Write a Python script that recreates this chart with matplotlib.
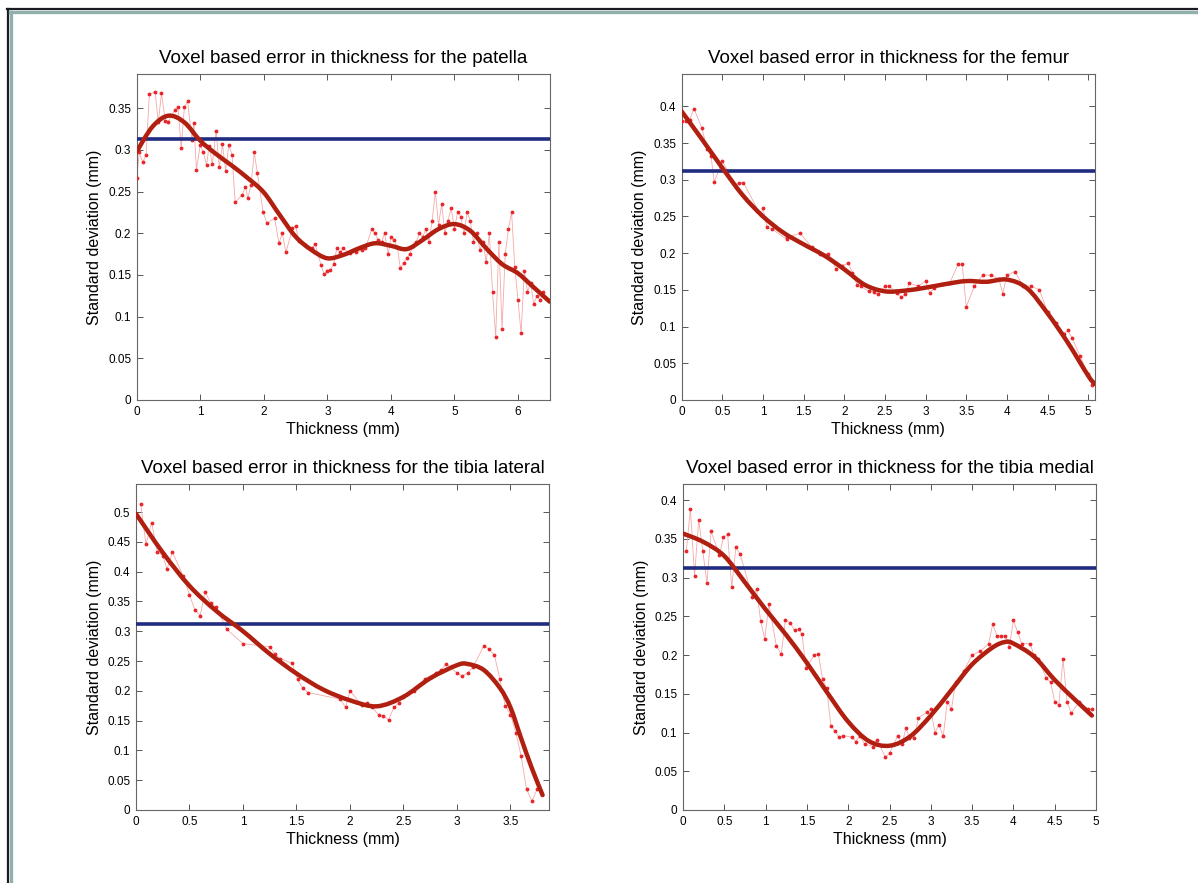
import numpy as np
import matplotlib
matplotlib.use('Agg')
import matplotlib.pyplot as plt
from matplotlib.ticker import FuncFormatter, MultipleLocator
from matplotlib.lines import Line2D
from matplotlib.path import Path
from matplotlib.patches import PathPatch

plt.rcParams['font.family'] = ['Liberation Sans', 'DejaVu Sans']

THRESH = 0.3125

# ---- patella ----
pat_x = [0.0, 0.04, 0.095, 0.147, 0.2, 0.29, 0.34, 0.39, 0.45, 0.5, 0.6, 0.65, 0.7, 0.75, 0.8,
         0.87, 0.9, 0.94, 1.0, 1.05, 1.1, 1.14, 1.19, 1.25, 1.3, 1.35, 1.4, 1.45, 1.5, 1.55,
         1.66, 1.71, 1.75, 1.8, 1.85, 1.9, 1.99, 2.05, 2.17, 2.24, 2.29, 2.35, 2.45, 2.5,
         2.55, 2.65, 2.76, 2.81, 2.9, 2.95, 3.0, 3.05, 3.1, 3.15, 3.2, 3.25, 3.35, 3.45,
         3.55, 3.6, 3.7, 3.75, 3.8, 3.86, 3.9, 3.96, 4.0, 4.05, 4.1, 4.15, 4.2, 4.25,
         4.3, 4.35, 4.4, 4.45, 4.5, 4.55, 4.6, 4.65, 4.7, 4.75, 4.8, 4.85, 4.9, 4.95,
         5.0, 5.05, 5.1, 5.15, 5.2, 5.25, 5.3, 5.35, 5.4, 5.45, 5.5, 5.55, 5.6, 5.65,
         5.7, 5.75, 5.8, 5.85, 5.9, 5.95, 6.0, 6.05, 6.1, 6.15, 6.2, 6.25, 6.3, 6.35, 6.4]
pat_y = [0.266, 0.297, 0.285, 0.294, 0.367, 0.369, 0.333, 0.368, 0.335, 0.334, 0.348, 0.351,
         0.302, 0.351, 0.359, 0.312, 0.332, 0.276, 0.306, 0.297, 0.282, 0.305, 0.283, 0.323,
         0.279, 0.307, 0.275, 0.306, 0.294, 0.237, 0.246, 0.256, 0.242, 0.258, 0.297, 0.272,
         0.225, 0.212, 0.218, 0.188, 0.2, 0.177, 0.206, 0.209, 0.191, 0.186, 0.182, 0.187,
         0.162, 0.151, 0.155, 0.156, 0.163, 0.182, 0.177, 0.182, 0.176, 0.177, 0.18, 0.182,
         0.205, 0.2, 0.192, 0.19, 0.2, 0.175, 0.195, 0.192, 0.184, 0.158, 0.164, 0.17,
         0.175, 0.185, 0.19, 0.2, 0.195, 0.205, 0.19, 0.215, 0.25, 0.21, 0.235, 0.2, 0.215,
         0.23, 0.205, 0.225, 0.22, 0.2, 0.225, 0.215, 0.19, 0.2, 0.18, 0.19, 0.165, 0.2,
         0.13, 0.075, 0.19, 0.085, 0.175, 0.205, 0.225, 0.16, 0.12, 0.08, 0.155, 0.13,
         0.14, 0.115, 0.125, 0.12, 0.13]
pat_fit_x = [0, 0.25, 0.5, 0.75, 1.0, 1.25, 1.5, 1.75, 2.0, 2.25, 2.5, 2.75, 3.0, 3.25, 3.5,
             3.75, 4.0, 4.25, 4.5, 4.75, 5.0, 5.25, 5.5, 5.75, 6.0, 6.25, 6.5]
pat_fit_y = [0.298, 0.328, 0.341, 0.333, 0.311, 0.295, 0.281, 0.266, 0.249, 0.222, 0.196,
             0.180, 0.170, 0.174, 0.182, 0.188, 0.185, 0.181, 0.192, 0.205, 0.211, 0.203,
             0.182, 0.163, 0.152, 0.135, 0.118]

# ---- femur ----
fem_x = [0.0, 0.05, 0.1, 0.15, 0.25, 0.31, 0.36, 0.4, 0.5, 0.66, 0.71, 0.76, 0.97, 1.0, 1.05,
         1.11, 1.29, 1.3, 1.46, 1.6, 1.7, 1.8, 1.9, 1.97, 2.05, 2.1, 2.16, 2.2, 2.3, 2.36,
         2.41, 2.5, 2.55, 2.65, 2.7, 2.75, 2.8, 2.91, 3.0, 3.05, 3.1, 3.2, 3.3, 3.4, 3.45,
         3.5, 3.6, 3.7, 3.8, 3.9, 3.95, 4.0, 4.1, 4.2, 4.3, 4.4, 4.5, 4.6, 4.7, 4.75, 4.8,
         4.9, 5.0, 5.05]
fem_y = [0.38, 0.38, 0.382, 0.397, 0.37, 0.342, 0.333, 0.297, 0.325, 0.293, 0.296, 0.296,
         0.252, 0.261, 0.235, 0.233, 0.219, 0.222, 0.227, 0.208, 0.199, 0.199, 0.179, 0.183,
         0.186, 0.173, 0.156, 0.155, 0.148, 0.147, 0.144, 0.155, 0.155, 0.146, 0.14, 0.144,
         0.159, 0.155, 0.162, 0.146, 0.152, 0.158, 0.16, 0.185, 0.185, 0.127, 0.155, 0.17,
         0.17, 0.165, 0.145, 0.17, 0.175, 0.155, 0.155, 0.15, 0.12, 0.105, 0.09, 0.095,
         0.085, 0.06, 0.035, 0.02]
fem_fit_x = [0, 0.25, 0.5, 0.75, 1.0, 1.25, 1.5, 1.75, 2.0, 2.25, 2.5, 2.75, 3.0, 3.25, 3.5,
             3.75, 4.0, 4.25, 4.5, 4.75, 5.0, 5.08]
fem_fit_y = [0.393, 0.355, 0.316, 0.279, 0.250, 0.228, 0.212, 0.197, 0.178, 0.157, 0.148,
             0.149, 0.153, 0.158, 0.162, 0.161, 0.164, 0.152, 0.118, 0.078, 0.033, 0.022]

# ---- tibia lateral ----
tl_x = [0.044, 0.093, 0.146, 0.2, 0.25, 0.29, 0.34, 0.44, 0.5, 0.55, 0.6, 0.645, 0.7, 0.75,
        0.85, 1.0, 1.25, 1.3, 1.35, 1.46, 1.51, 1.56, 1.61, 1.91, 1.96, 2.0, 2.11, 2.16,
        2.21, 2.27, 2.31, 2.36, 2.41, 2.46, 2.5, 2.6, 2.7, 2.8, 2.85, 2.9, 3.0, 3.05, 3.1,
        3.15, 3.25, 3.3, 3.35, 3.4, 3.45, 3.5, 3.55, 3.6, 3.65, 3.7, 3.75]
tl_y = [0.513, 0.446, 0.482, 0.433, 0.427, 0.404, 0.433, 0.393, 0.361, 0.336, 0.326, 0.366,
        0.347, 0.34, 0.303, 0.279, 0.274, 0.261, 0.254, 0.246, 0.219, 0.204, 0.197, 0.186,
        0.172, 0.2, 0.176, 0.179, 0.172, 0.159, 0.158, 0.151, 0.172, 0.18, 0.19, 0.2, 0.22,
        0.23, 0.235, 0.245, 0.23, 0.225, 0.23, 0.24, 0.275, 0.27, 0.26, 0.22, 0.175, 0.16,
        0.13, 0.09, 0.035, 0.015, 0.035]
tl_fit_x = [0, 0.25, 0.5, 0.75, 1.0, 1.25, 1.5, 1.75, 2.0, 2.25, 2.5, 2.75, 3.0, 3.1, 3.25,
            3.4, 3.5, 3.6, 3.7, 3.8]
tl_fit_y = [0.497, 0.432, 0.376, 0.334, 0.300, 0.262, 0.229, 0.202, 0.184, 0.174, 0.190,
            0.221, 0.243, 0.245, 0.235, 0.205, 0.172, 0.120, 0.070, 0.025]

# ---- tibia medial ----
tm_x = [0.04, 0.09, 0.14, 0.19, 0.24, 0.29, 0.34, 0.44, 0.49, 0.54, 0.59, 0.64, 0.69, 0.84,
        0.89, 0.94, 0.99, 1.04, 1.13, 1.19, 1.24, 1.3, 1.35, 1.4, 1.44, 1.49, 1.59, 1.64,
        1.69, 1.74, 1.79, 1.84, 1.89, 1.94, 2.05, 2.09, 2.14, 2.2, 2.3, 2.35, 2.45, 2.5,
        2.6, 2.65, 2.7, 2.74, 2.8, 2.85, 2.95, 3.0, 3.05, 3.1, 3.15, 3.2, 3.25, 3.3, 3.4,
        3.5, 3.6, 3.7, 3.75, 3.8, 3.85, 3.9, 3.95, 4.0, 4.05, 4.1, 4.2, 4.25, 4.3, 4.4,
        4.45, 4.5, 4.55, 4.6, 4.65, 4.7, 4.8, 4.9, 4.95]
tm_y = [0.334, 0.389, 0.302, 0.375, 0.334, 0.293, 0.36, 0.329, 0.352, 0.356, 0.288, 0.339,
        0.331, 0.275, 0.285, 0.244, 0.221, 0.266, 0.212, 0.201, 0.246, 0.241, 0.232, 0.234,
        0.227, 0.184, 0.2, 0.201, 0.169, 0.157, 0.109, 0.102, 0.094, 0.096, 0.094, 0.088,
        0.096, 0.085, 0.082, 0.091, 0.068, 0.073, 0.096, 0.085, 0.106, 0.093, 0.093, 0.119,
        0.126, 0.13, 0.1, 0.11, 0.095, 0.14, 0.13, 0.165, 0.18, 0.2, 0.205, 0.215, 0.24,
        0.225, 0.225, 0.225, 0.21, 0.245, 0.23, 0.215, 0.215, 0.2, 0.195, 0.17, 0.165, 0.14,
        0.135, 0.195, 0.14, 0.125, 0.14, 0.13, 0.13]
tm_fit_x = [0, 0.25, 0.5, 0.75, 1.0, 1.25, 1.5, 1.75, 2.0, 2.25, 2.5, 2.75, 3.0, 3.25, 3.5,
            3.75, 3.9, 4.0, 4.25, 4.5, 4.75, 4.95]
tm_fit_y = [0.357, 0.346, 0.328, 0.294, 0.259, 0.226, 0.190, 0.151, 0.114, 0.089, 0.083,
            0.095, 0.122, 0.155, 0.188, 0.210, 0.217, 0.215, 0.198, 0.168, 0.142, 0.122]

panels = [
    ('Voxel based error in thickness for the patella', pat_x, pat_y, pat_fit_x, pat_fit_y,
     (0, 6.5), 1.0, (0, 0.391), 0.35),
    ('Voxel based error in thickness for the femur', fem_x, fem_y, fem_fit_x, fem_fit_y,
     (0, 5.08), 0.5, (0, 0.444), 0.4),
    ('Voxel based error in thickness for the tibia lateral', tl_x, tl_y, tl_fit_x, tl_fit_y,
     (0, 3.86), 0.5, (0, 0.547), 0.5),
    ('Voxel based error in thickness for the tibia medial', tm_x, tm_y, tm_fit_x, tm_fit_y,
     (0, 5.0), 0.5, (0, 0.421), 0.4),
]


def smooth_path(xs, ys):
    # cubic bezier through the knots (catmull-rom tangents)
    p = np.column_stack([xs, ys]).astype(float)
    verts = [p[0]]
    codes = [Path.MOVETO]
    n = len(p)
    for i in range(n - 1):
        p0 = p[i - 1] if i > 0 else p[i]
        p3 = p[i + 2] if i + 2 < n else p[i + 1]
        c1 = p[i] + (p[i + 1] - p0) / 6.0
        c2 = p[i + 1] - (p3 - p[i]) / 6.0
        verts += [c1, c2, p[i + 1]]
        codes += [Path.CURVE4] * 3
    return Path(verts, codes)


W, H = 1198, 883
fig = plt.figure(figsize=(W / 100, H / 100), dpi=100)

# left/top pixel positions of each axes
boxes = [(136.7, 74), (681.7, 74), (136, 484), (683, 484)]
aw, ah = 413, 326

fmt = FuncFormatter(lambda v, p: ('%g' % round(v, 4)))

for (title, px, py, fx, fy, xl, xstep, yl, ytop), (l, t) in zip(panels, boxes):
    ax = fig.add_axes([l / W, 1 - (t + ah) / H, aw / W, ah / H])
    ax.plot(px, py, '-', color='#f5a9a9', lw=0.6, zorder=2)
    ax.plot(px, py, '.', color='#e8262b', ms=3.5, zorder=3)
    ax.axhline(THRESH, color='#1f2c80', lw=2.6, zorder=4)
    ax.add_patch(PathPatch(smooth_path(fx, fy), fill=False, edgecolor='#b01f10', lw=3.2,
                           capstyle='round', joinstyle='round', zorder=5))
    ax.set_xlim(*xl)
    ax.set_ylim(*yl)
    ax.xaxis.set_major_locator(MultipleLocator(xstep))
    ax.set_yticks(np.arange(0, ytop + 0.001, 0.05))
    ax.xaxis.set_major_formatter(fmt)
    ax.yaxis.set_major_formatter(fmt)
    ax.tick_params(direction='in', top=True, right=True, length=4, width=0.7,
                   color='#555555', labelsize=8.5, pad=4)
    for s in ax.spines.values():
        s.set_color('#666666')
        s.set_linewidth(0.8)
    ax.set_title(title, fontsize=13.5, pad=8)
    ax.set_xlabel('Thickness (mm)', fontsize=11.5, labelpad=3)
    ax.set_ylabel('Standard deviation (mm)', fontsize=11.5, labelpad=4)

# frame around the figure (top and left edges)
fig.add_artist(Line2D([7 / W, 1], [1 - 9 / H, 1 - 9 / H], color='#1a1a22', lw=1.6))
fig.add_artist(Line2D([8 / W, 8 / W], [0, 1 - 9 / H], color='#1a1a22', lw=1.6))
fig.add_artist(Line2D([10 / W, 1], [1 - 12 / H, 1 - 12 / H], color='#8fb0ad', lw=2.4))
fig.add_artist(Line2D([11 / W, 11 / W], [0, 1 - 12 / H], color='#8fb0ad', lw=2.4))

fig.savefig('out.png', dpi=100)
